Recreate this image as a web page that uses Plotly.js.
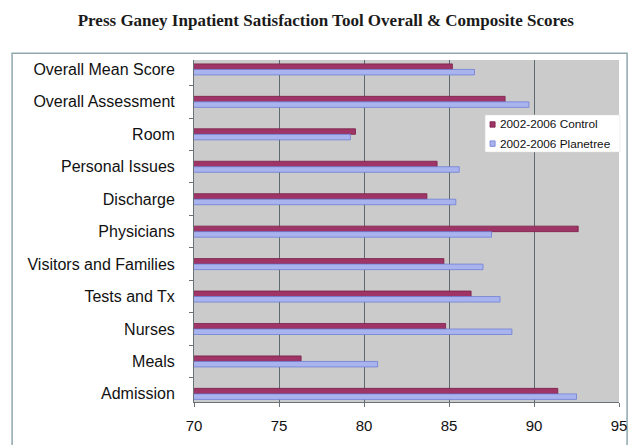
<!DOCTYPE html>
<html>
<head>
<meta charset="utf-8">
<script src="https://cdn.plot.ly/plotly-3.0.1.min.js"></script>
<style>html,body{margin:0;padding:0;background:#fff;}#chart{width:629px;height:445px;}</style>
</head>
<body>
<div id="chart"></div>
<script>
const categories = ["Overall Mean Score","Overall Assessment","Room","Personal Issues","Discharge","Physicians","Visitors and Families","Tests and Tx","Nurses","Meals","Admission"];
const controlScores = [85.2, 88.3, 79.5, 84.3, 83.7, 92.6, 84.7, 86.3, 84.8, 76.3, 91.4];
const planetreeScores = [86.5, 89.7, 79.2, 85.6, 85.4, 87.5, 87.0, 88.0, 88.7, 80.8, 92.5];
const seriesNames = ["2002-2006 Control", "2002-2006 Planetree"];
const xTicks = [70, 75, 80, 85, 90, 95];

const controlColor = '#9e3566', controlLine = '#7a1f48';
const planeColor = '#a9b4ee', planeLine = '#6f7fd6';

const traces = [
  {type:'bar', orientation:'h', name:seriesNames[0], y:categories, x:controlScores,
   marker:{color:controlColor, line:{color:controlLine, width:0.8}}},
  {type:'bar', orientation:'h', name:seriesNames[1], y:categories, x:planetreeScores,
   marker:{color:planeColor, line:{color:planeLine, width:0.8}}}
];
const font = 'Liberation Sans, Arial, sans-serif';
const layout = {
  width:629, height:445,
  margin:{l:194, r:10, t:60, b:43},
  paper_bgcolor:'#ffffff', plot_bgcolor:'#cbcbcb',
  barmode:'group', bargap:0.66, bargroupgap:0,
  showlegend:false,
  title:{text:'<b>Press Ganey Inpatient Satisfaction Tool Overall & Composite Scores</b>',
    font:{family:'Liberation Serif, Times New Roman, serif', size:17, color:'#1a1a1a'},
    x:0.518, xanchor:'center', y:0.956, yanchor:'middle'},
  xaxis:{range:[70,95], tickvals:xTicks, ticktext:xTicks.map(String), showgrid:true,
    gridcolor:'#5d6b70', gridwidth:1, zeroline:false, showline:true, linecolor:'#6b7378',
    ticks:'outside', ticklen:4, tickcolor:'#6b7378', ticklabelstandoff:6,
    tickfont:{family:font, size:15, color:'#111'}},
  yaxis:{type:'category', range:[10.25, -0.29], showgrid:false, showline:true, linecolor:'#6b7378',
    ticks:'outside', ticklen:4, tickcolor:'#6b7378', tickson:'boundaries', ticklabelstandoff:15,
    tickfont:{family:font, size:16, color:'#111'}},
  shapes:[
    {type:'rect', xref:'paper', yref:'paper', x0:-0.428, x1:1.019, y0:-0.25, y1:1.02,
     line:{color:'#8fa9ae', width:1.5}, fillcolor:'rgba(0,0,0,0)', layer:'below'},
    {type:'rect', xref:'paper', yref:'paper', x0:0.685, x1:1.002, y0:0.731, y1:0.839,
     line:{color:'#dddddd', width:0.5}, fillcolor:'#ffffff', layer:'above'},
    {type:'rect', xref:'paper', yref:'paper', x0:0.6965, x1:0.7085, y0:0.8035, y1:0.8195,
     line:{color:controlLine, width:0.8}, fillcolor:controlColor, layer:'above'},
    {type:'rect', xref:'paper', yref:'paper', x0:0.6965, x1:0.7085, y0:0.7475, y1:0.7635,
     line:{color:planeLine, width:0.8}, fillcolor:planeColor, layer:'above'}
  ],
  annotations:[
    {xref:'paper', yref:'paper', x:0.716, y:0.8115, xanchor:'left', yanchor:'middle', showarrow:false,
     text:seriesNames[0], font:{family:font, size:11.8, color:'#111'}},
    {xref:'paper', yref:'paper', x:0.716, y:0.7555, xanchor:'left', yanchor:'middle', showarrow:false,
     text:seriesNames[1], font:{family:font, size:11.8, color:'#111'}}
  ]
};
Plotly.newPlot('chart', traces, layout, {displayModeBar:false, staticPlot:true});
</script>
</body>
</html>
